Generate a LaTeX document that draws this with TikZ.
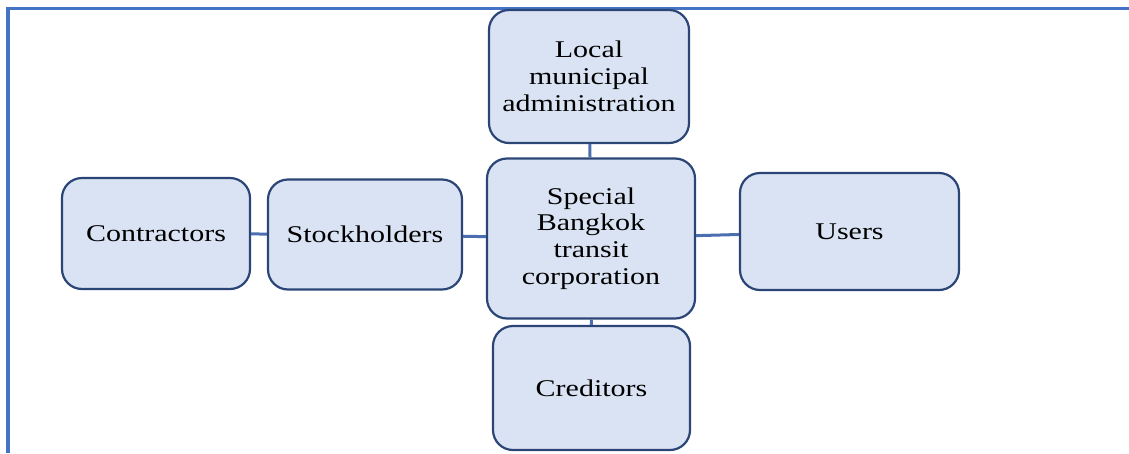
\documentclass[tikz,border=0pt]{standalone}
\usepackage{fontspec}
\setmainfont{Liberation Serif}[FakeStretch=1.25]
\definecolor{boxfill}{HTML}{DAE3F3}
\definecolor{boxdraw}{HTML}{2B4576}
\definecolor{linkcol}{HTML}{4A6EB0}
\definecolor{framecol}{HTML}{4472C4}
\begin{document}
\begin{tikzpicture}[x=1pt,y=-1pt,
  entity/.style={draw=boxdraw, fill=boxfill, line width=2.2pt, rounded corners=20pt,
    inner sep=0pt, align=center, font=\fontsize{24}{26.8}\selectfont},
  link/.style={draw=linkcol, line width=3pt}]
  \useasboundingbox (0,0) rectangle (1129,453);
  % frame along the top and left edges
  \draw[framecol, line width=3.5pt] (1129,8.5) -- (8,8.5) -- (8,453);
  % stakeholder boxes
  \node[entity, minimum width=200pt, minimum height=133pt] (local) at (589,76.5)
    {Local\\municipal\\administration};
  \node[entity, minimum width=208pt, minimum height=160pt] (sbtc) at (591,238.5)
    {Special\\Bangkok\\transit\\corporation};
  \node[entity, minimum width=197pt, minimum height=124pt] (cred) at (591.5,388)
    {Creditors};
  \node[entity, minimum width=188pt, minimum height=111pt] (contr) at (156,233.5)
    {Contractors};
  \node[entity, minimum width=194pt, minimum height=110pt] (stock) at (365,234.5)
    {Stockholders};
  \node[entity, minimum width=219pt, minimum height=117pt] (users) at (849.5,231.5)
    {Users};
  % connectors
  \draw[link] (local) -- (sbtc);
  \draw[link] (sbtc) -- (cred);
  \draw[link] (contr) -- (stock);
  \draw[link] (stock) -- (sbtc);
  \draw[link] (sbtc) -- (users);
\end{tikzpicture}
\end{document}
